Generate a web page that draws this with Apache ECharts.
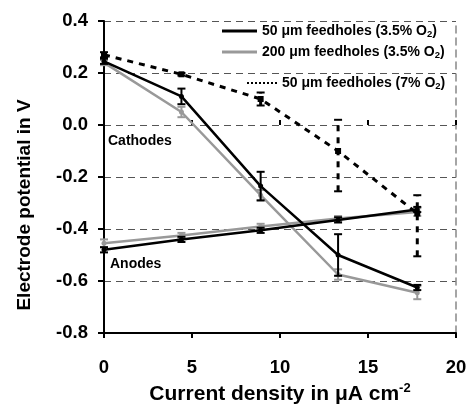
<!DOCTYPE html>
<html>
<head>
<meta charset="utf-8">
<script src="https://cdn.jsdelivr.net/npm/echarts@6/dist/echarts.min.js"></script>
<style>html,body{margin:0;padding:0;background:#fff}#c{width:473px;height:404px}</style>
</head>
<body>
<div id="c"></div>
<script>
// ---- data ----
const xVals = [0, 4.4, 8.9, 13.3, 17.8];
const xTicks = [0, 5, 10, 15, 20];
const yTicks = [-0.8, -0.6, -0.4, -0.2, 0.0, 0.2, 0.4];

const cath50 = [0.245, 0.11, -0.235, -0.50, -0.625];
const cath50Err = [0.01, 0.03, 0.055, 0.08, 0.01];
const cath200 = [0.24, 0.05, -0.27, -0.575, -0.645];
const cath200Err = [0.01, 0.02, 0.02, 0.02, 0.025];
const anode50 = [-0.48, -0.44, -0.405, -0.365, -0.325];
const anode50Err = [0.01, 0.01, 0.01, 0.01, 0.01];
const anode200 = [-0.455, -0.425, -0.39, -0.36, -0.335];
const anode200Err = [0.015, 0.01, 0.01, 0.01, 0.015];
const cath50o7 = [0.27, 0.195, 0.10, -0.10, -0.34];
const cath50o7Low = [0.26, 0.19, 0.075, -0.255, -0.505];
const cath50o7High = [0.28, 0.20, 0.125, 0.02, -0.27];

const names = ['50 μm feedholes (3.5% O2)', '200 μm feedholes (3.5% O2)', '50 μm feedholes (7% O2)'];

const FONT = '"Liberation Sans", Arial, sans-serif';
const BLACK = '#000000', GRAY = '#999999';

const pts = (ys) => xVals.map((x, i) => [x, ys[i]]);
const errSym = (ys, es) => xVals.map((x, i) => [x, ys[i] - es[i], ys[i] + es[i]]);
const errAsym = (lo, hi) => xVals.map((x, i) => [x, lo[i], hi[i]]);

function errSeries(data, color, width, dash, z) {
  return {
    type: 'custom', data: data, z: z, silent: true,
    encode: { x: 0, y: [1, 2] },
    renderItem: function (params, api) {
      const x = api.value(0);
      const p1 = api.coord([x, api.value(1)]);
      const p2 = api.coord([x, api.value(2)]);
      const hw = 4;
      const style = { stroke: color, lineWidth: width, lineDash: dash || null, fill: null };
      const capStyle = { stroke: color, lineWidth: 2, fill: null };
      return {
        type: 'group',
        children: [
          { type: 'line', shape: { x1: p1[0], y1: p1[1], x2: p2[0], y2: p2[1] }, style: style },
          { type: 'line', shape: { x1: p1[0] - hw, y1: p1[1], x2: p1[0] + hw, y2: p1[1] }, style: capStyle },
          { type: 'line', shape: { x1: p2[0] - hw, y1: p2[1], x2: p2[0] + hw, y2: p2[1] }, style: capStyle }
        ]
      };
    }
  };
}

function lineSeries(name, ys, color, z, opts) {
  return Object.assign({
    name: name, type: 'line', data: pts(ys), z: z,
    symbol: 'circle', symbolSize: 5, showSymbol: true,
    itemStyle: { color: color },
    lineStyle: { color: color, width: 2.5 },
    emphasis: { disabled: true }, animation: false
  }, opts || {});
}

const richLegend = {
  a: { fontFamily: FONT, fontWeight: 'bold', fontSize: 14, color: '#000' },
  s: { fontFamily: FONT, fontWeight: 'bold', fontSize: 9.5, color: '#000', verticalAlign: 'bottom', padding: [6, 0, 0, 0] }
};
function legendFmt(n) {
  const m = n.match(/^(.*O)2\)$/);
  return '{a|' + m[1] + '}{s|2}{a|)}';
}
function mkLegend(name, left, top, icon, w, h) {
  return {
    data: [{ name: name, icon: icon }],
    left: left, top: top, padding: 0, itemWidth: w, itemHeight: h,
    selectedMode: false, formatter: legendFmt,
    textStyle: { rich: richLegend, fontFamily: FONT, fontWeight: 'bold', fontSize: 14 }
  };
}

const dotIcon = 'path://M0,0h2v2h-2zM4,0h2v2h-2zM8,0h2v2h-2zM12,0h2v2h-2zM16,0h2v2h-2zM20,0h2v2h-2zM24,0h2v2h-2zM28,0h2v2h-2z';

const axisLabelStyle = { fontFamily: FONT, fontWeight: 'bold', fontSize: 18.5, color: '#000' };

const option = {
  animation: false,
  backgroundColor: '#fff',
  grid: { left: 104, right: 17, top: 21, bottom: 71, containLabel: false, outerBoundsMode: 'none' },
  legend: [
    mkLegend(names[0], 222, 24, 'rect', 35, 3),
    mkLegend(names[1], 222, 45, 'rect', 35, 3),
    mkLegend(names[2], 247, 76, dotIcon, 30, 2)
  ],
  xAxis: [{
    type: 'value', min: xTicks[0], max: xTicks[xTicks.length - 1], interval: 5,
    axisLine: { show: true, onZero: false, lineStyle: { color: '#000', width: 2 } },
    axisTick: { show: true, length: 5, lineStyle: { color: '#000', width: 2 } },
    axisLabel: Object.assign({ margin: 25 }, axisLabelStyle),
    splitLine: { show: false },
    name: '{a|Current density in μA cm}{s|-2}',
    nameLocation: 'middle', nameGap: 45,
    nameTextStyle: {
      rich: {
        a: { fontFamily: FONT, fontWeight: 'bold', fontSize: 21, color: '#000', lineHeight: 24 },
        s: { fontFamily: FONT, fontWeight: 'bold', fontSize: 13, color: '#000', verticalAlign: 'top', lineHeight: 12 }
      }
    }
  }, {
    type: 'value', min: xTicks[0], max: xTicks[xTicks.length - 1], interval: 5, position: 'bottom',
    axisLine: { show: false },
    axisTick: { show: true, inside: true, length: 5, lineStyle: { color: '#000', width: 2 } },
    axisLabel: { show: false }, splitLine: { show: false }
  }],
  yAxis: [{
    type: 'value', min: yTicks[0], max: yTicks[yTicks.length - 1], interval: 0.2,
    axisLine: { show: true, onZero: false, lineStyle: { color: '#000', width: 2 } },
    axisTick: { show: true, length: 6, lineStyle: { color: '#000', width: 2 } },
    axisLabel: Object.assign({ margin: 16, formatter: v => v.toFixed(1) }, axisLabelStyle),
    splitLine: { show: true, lineStyle: { color: '#555', width: 1, type: [7, 5] } }
  }, {
    type: 'value', min: yTicks[0], max: yTicks[yTicks.length - 1], interval: 0.2, position: 'right',
    axisLine: { show: true, onZero: false, lineStyle: { color: '#888', width: 1.5, type: [7, 5] } },
    axisTick: { show: false }, axisLabel: { show: false }, splitLine: { show: false }
  }],
  graphic: [
    { type: 'text', left: 108, top: 134, style: { text: 'Cathodes', fontFamily: FONT, fontWeight: 'bold', fontSize: 14, fill: '#000' } },
    { type: 'text', left: 110, top: 257, style: { text: 'Anodes', fontFamily: FONT, fontWeight: 'bold', fontSize: 14, fill: '#000' } },
    { type: 'text', x: 25, y: 205, rotation: Math.PI / 2,
      style: { text: 'Electrode potential in V', fontFamily: FONT, fontWeight: 'bold', fontSize: 19, fill: '#000', align: 'center', verticalAlign: 'middle' } }
  ],
  series: [
    lineSeries(names[1], cath200, GRAY, 2),
    lineSeries(names[1], anode200, GRAY, 2),
    errSeries(errSym(cath200, cath200Err), GRAY, 2, null, 3),
    errSeries(errSym(anode200, anode200Err), GRAY, 2, null, 3),
    lineSeries(names[0], cath50, BLACK, 4),
    lineSeries(names[0], anode50, BLACK, 4),
    errSeries(errSym(cath50, cath50Err), BLACK, 2, null, 5),
    errSeries(errSym(anode50, anode50Err), BLACK, 2, null, 5),
    lineSeries(names[2], cath50o7, BLACK, 6, {
      symbol: 'rect', symbolSize: 6,
      lineStyle: { color: BLACK, width: 3, type: [6, 6] }
    }),
    errSeries(errAsym(cath50o7Low, cath50o7High), BLACK, 3, [6, 6], 6)
  ]
};

const chart = echarts.init(document.getElementById('c'), null, { renderer: 'canvas' });
chart.setOption(option);
</script>
</body>
</html>
